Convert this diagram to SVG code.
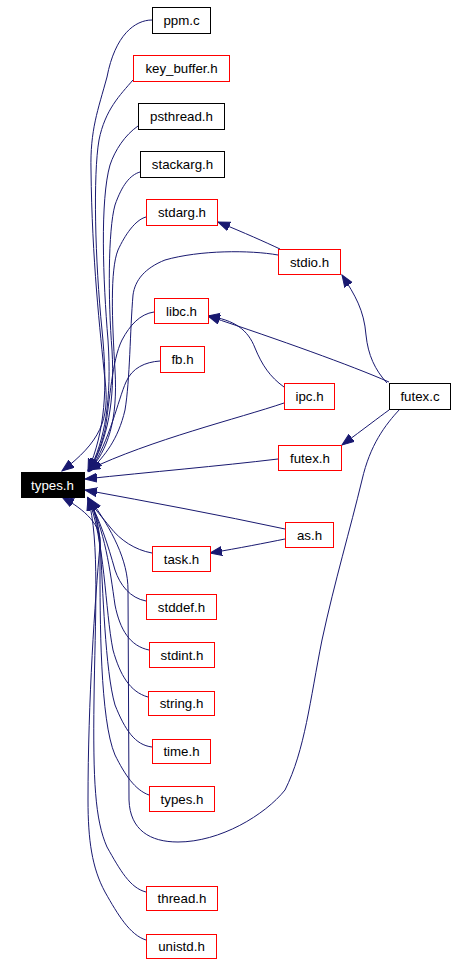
<svg xmlns="http://www.w3.org/2000/svg" width="458" height="964" viewBox="0 0 458 964">
<style>
.n rect{fill:#fff;stroke:#000;stroke-width:1}
.n.r rect{stroke:#ff0000}
.n text{font-family:"Liberation Sans",Arial,sans-serif;font-size:13.3px;fill:#000;text-anchor:middle}
.n.m rect{fill:#000;stroke:#000}
.n.m text{fill:#fff}
.e path{fill:none;stroke:#191970;stroke-width:1;marker-end:url(#ah)}
</style>
<defs>
<marker id="ah" markerUnits="userSpaceOnUse" markerWidth="14" markerHeight="11" refX="12" refY="5" orient="auto">
<path d="M0,0.5 L12,5 L0,9.5 z" fill="#191970" stroke="#191970" stroke-width="1"/>
</marker>
</defs>
<rect width="458" height="964" fill="#fff"/>
<g id="edges" class="e">
<path d="M152,20 C135,20 115,35 107,77 C98,110 90,130 91,170 C92,260 100,330 105,380 C110,420 100,442 62,471"/>
<path d="M133,80 C120,95 105,110 99,140 C93,175 95,260 102,330 C108,390 105,430 88,471"/>
<path d="M138,126 C125,135 115,150 110,165 C100,200 103,280 108,340 C112,400 105,440 89,471"/>
<path d="M140,172 C130,175 122,185 115,205 C108,230 108,300 112,350 C115,400 108,440 89,471"/>
<path d="M146,217 C135,220 125,235 118,250 C110,270 112,320 115,370 C118,420 108,450 89,471"/>
<path d="M278,255 C250,250 200,250 165,260 C145,268 135,280 133,295 C130,330 130,380 125,410 C118,440 105,455 90,471"/>
<path d="M280,249 C265,242 245,233 218,222"/>
<path d="M154,312 C140,314 130,325 122,340 C112,360 110,400 105,430 C100,450 95,460 89,471"/>
<path d="M160,361 C145,362 132,368 126,382 C118,400 110,440 90,471"/>
<path d="M284,387 C270,377 262,365 255,348 C248,330 235,320 208,316"/>
<path d="M389,382 C350,365 280,340 208,316"/>
<path d="M387,383 C375,370 368,355 366,335 C364,310 355,295 342,275"/>
<path d="M284,403 C240,418 150,440 88,470"/>
<path d="M389,410 C378,418 365,428 342,445"/>
<path d="M278,459 C220,466 150,472 85,479"/>
<path d="M285,529 C220,515 150,502 85,490"/>
<path d="M285,539 C265,543 240,548 210,553"/>
<path d="M152,553 C135,550 120,540 110,527 C103,518 95,510 88,498"/>
<path d="M146,601 C130,598 120,585 115,570 C108,545 100,520 88,498"/>
<path d="M149,650 C130,646 120,630 115,605 C110,570 105,530 88,498"/>
<path d="M148,697 C130,692 120,675 113,650 C105,610 105,540 88,498"/>
<path d="M152,747 C135,745 125,730 115,705 C105,670 103,590 100,540 C98,520 94,508 88,498"/>
<path d="M149,795 C135,790 125,775 115,755 C100,720 100,620 100,560 C100,530 95,510 88,498"/>
<path d="M146,892 C130,888 120,870 107,847 C95,820 93,780 94,700 C95,620 100,540 88,498"/>
<path d="M146,940 C130,935 118,915 105,892 C92,868 88,840 88,800 C88,700 95,600 100,545 C102,525 85,510 62,497"/>
<path d="M400,409 C385,425 370,445 362,480 C350,530 335,580 322,640 C310,700 305,750 285,790 C265,815 220,842 178,842 C150,842 130,830 129,800 L128,590 C128,560 112,530 90,499"/>
</g>
<g id="types_h" class="n m"><rect x="21.5" y="472.5" width="63" height="25"/><text x="52.5" y="489.5">types.h</text></g>
<g id="ppm_c" class="n"><rect x="152.5" y="7.5" width="58" height="26"/><text x="181.5" y="25">ppm.c</text></g>
<g id="key_buffer_h" class="n r"><rect x="133.5" y="55.5" width="96" height="26"/><text x="181.5" y="73">key_buffer.h</text></g>
<g id="psthread_h" class="n"><rect x="138.5" y="103.5" width="86" height="26"/><text x="181.5" y="121">psthread.h</text></g>
<g id="stackarg_h" class="n"><rect x="140.5" y="151.5" width="84" height="26"/><text x="182.5" y="169">stackarg.h</text></g>
<g id="stdarg_h" class="n r"><rect x="146.5" y="199.5" width="71" height="26"/><text x="182" y="217">stdarg.h</text></g>
<g id="stdio_h" class="n r"><rect x="278.5" y="249.5" width="62" height="25"/><text x="309.5" y="266.5">stdio.h</text></g>
<g id="libc_h" class="n r"><rect x="154.5" y="298.5" width="54" height="25"/><text x="181.5" y="315.5">libc.h</text></g>
<g id="fb_h" class="n r"><rect x="160.5" y="346.5" width="44" height="26"/><text x="182.5" y="364">fb.h</text></g>
<g id="ipc_h" class="n r"><rect x="284.5" y="383.5" width="50" height="26"/><text x="309.5" y="401">ipc.h</text></g>
<g id="futex_c" class="n"><rect x="389.5" y="383.5" width="61" height="26"/><text x="420" y="401">futex.c</text></g>
<g id="futex_h" class="n r"><rect x="278.5" y="445.5" width="63" height="25"/><text x="310" y="462.5">futex.h</text></g>
<g id="as_h" class="n r"><rect x="285.5" y="522.5" width="48" height="25"/><text x="309.5" y="539.5">as.h</text></g>
<g id="task_h" class="n r"><rect x="152.5" y="546.5" width="58" height="25"/><text x="181.5" y="563.5">task.h</text></g>
<g id="stddef_h" class="n r"><rect x="146.5" y="594.5" width="70" height="25"/><text x="181.5" y="611.5">stddef.h</text></g>
<g id="stdint_h" class="n r"><rect x="149.5" y="642.5" width="65" height="25"/><text x="182" y="659.5">stdint.h</text></g>
<g id="string_h" class="n r"><rect x="148.5" y="691.5" width="66" height="24"/><text x="181.5" y="708">string.h</text></g>
<g id="time_h" class="n r"><rect x="152.5" y="739.5" width="58" height="24"/><text x="181.5" y="756">time.h</text></g>
<g id="types_h_2" class="n r"><rect x="149.5" y="786.5" width="65" height="25"/><text x="182" y="803.5">types.h</text></g>
<g id="thread_h" class="n r"><rect x="146.5" y="886.5" width="71" height="24"/><text x="182" y="903">thread.h</text></g>
<g id="unistd_h" class="n r"><rect x="146.5" y="934.5" width="70" height="24"/><text x="181.5" y="951">unistd.h</text></g>
</svg>
